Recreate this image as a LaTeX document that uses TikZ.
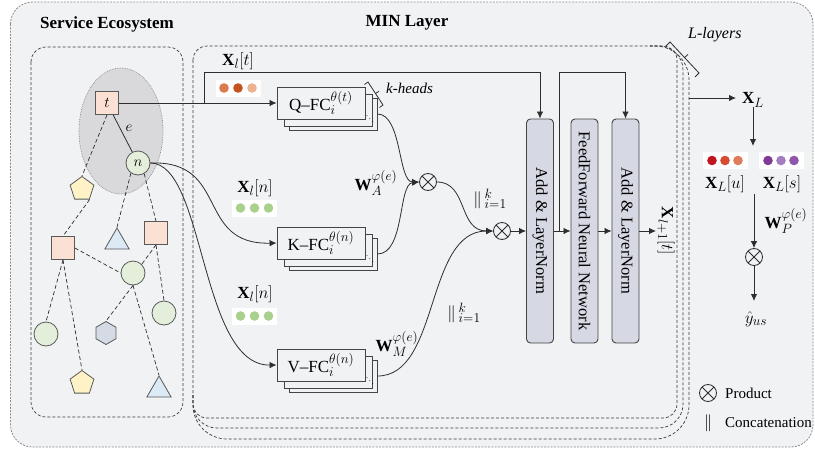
\RequirePackage{fix-cm}
\documentclass[tikz,border=0pt]{standalone}
\usepackage{fontspec}
\setmainfont{Liberation Serif}
\usetikzlibrary{shapes.geometric,arrows.meta,calc}
\DeclareMathSizes{17}{17}{13.5}{10.5}

\definecolor{bg}{HTML}{F1F2F4}
\definecolor{outerB}{HTML}{8C8C8C}
\definecolor{dashB}{HTML}{3C3C3C}
\definecolor{ellC}{HTML}{D9D9DC}
\definecolor{ellB}{HTML}{8A8A8A}
\definecolor{salmon}{HTML}{FBE1D4}
\definecolor{nodeB}{HTML}{595959}
\definecolor{leaf}{HTML}{E3EFDB}
\definecolor{sand}{HTML}{FFF2C6}
\definecolor{sky}{HTML}{DCEAF6}
\definecolor{slate}{HTML}{D5DBE4}
\definecolor{lav}{HTML}{D6D8E3}
\definecolor{boxB}{HTML}{444444}
\definecolor{lineC}{HTML}{2E2E2E}
\definecolor{orA}{HTML}{DA7B4B}
\definecolor{orB}{HTML}{C4541F}
\definecolor{orC}{HTML}{EBB294}
\definecolor{grA}{HTML}{A9D18E}
\definecolor{rdA}{HTML}{C0161F}
\definecolor{rdB}{HTML}{D64B33}
\definecolor{rdC}{HTML}{E07C5C}
\definecolor{puA}{HTML}{7E3C97}
\definecolor{puB}{HTML}{A47DC1}
\definecolor{puC}{HTML}{8F56AC}

% stacked k-head projection boxes: name, centre, label
\newcommand\fcstack[3]{%
  \node[fcbox] (#1b2) at ($(#2)+(12,11)$) {};
  \node[fcbox] (#1b1) at ($(#2)+(7,7)$) {};
  \node[fcbox] (#1) at (#2) {#3};
  \node[font=\fontsize{8}{8}\selectfont, inner sep=0] at ($(#1.south east)+(4.5,-3.5)$) {$\ddots$};
}
% a row of three coloured dots on a white strip: name, centre, colours, spacing
\newcommand\dotrow[6]{%
  \node[dotbox] (#1) at (#2) {};
  \fill[#3] ($(#1)+(-#6,0)$) circle (4.8pt);
  \fill[#4] (#1) circle (4.8pt);
  \fill[#5] ($(#1)+(#6,0)$) circle (4.8pt);
}
% concatenation operator with its range
\newcommand\catop{${\|}\,{}^{k}_{i=1}$}

\tikzset{
  conn/.style={draw=lineC, line width=0.8pt},
  arr/.style={conn, -{Latex[length=7pt,width=6.5pt]}},
  gedge/.style={draw=lineC, line width=0.7pt, dash pattern=on 4pt off 2.5pt},
  sq/.style={rectangle, draw=nodeB, line width=0.8pt, fill=salmon, minimum size=23pt, inner sep=0},
  cir/.style={circle, draw=nodeB, line width=0.8pt, fill=leaf, minimum size=24pt, inner sep=0},
  pent/.style={regular polygon, regular polygon sides=5, draw=nodeB, line width=0.8pt, fill=sand, minimum size=25pt, inner sep=0},
  tri/.style={regular polygon, regular polygon sides=3, draw=nodeB, line width=0.8pt, fill=sky, minimum size=28pt, inner sep=0},
  hexa/.style={regular polygon, regular polygon sides=6, shape border rotate=30, draw=nodeB, line width=0.8pt, fill=slate, minimum size=23pt, inner sep=0},
  fcbox/.style={rectangle, draw=boxB, fill=bg, line width=0.9pt, minimum width=88pt, minimum height=32pt, inner sep=0, font=\fontsize{17}{18}\selectfont},
  lnbox/.style={rectangle, rounded corners=4pt, draw=boxB, fill=lav, line width=0.9pt, minimum width=27pt, minimum height=224pt, inner sep=0},
  lntext/.style={rotate=-90, font=\fontsize{16.5}{18}\selectfont, inner sep=0},
  prod/.style={circle, draw=lineC, line width=0.8pt, fill=bg, minimum size=17pt, inner sep=0,
    path picture={\draw[lineC, line width=0.8pt]
      (path picture bounding box.north west) -- (path picture bounding box.south east)
      (path picture bounding box.north east) -- (path picture bounding box.south west);}},
  dotbox/.style={rectangle, fill=white, minimum width=45pt, minimum height=17pt, inner sep=0},
  lbl/.style={font=\fontsize{17}{20}\selectfont, inner sep=0},
  title/.style={font=\fontsize{17}{20}\selectfont\bfseries, inner sep=0},
  lay/.style={draw=dashB, line width=0.7pt, dash pattern=on 3pt off 2pt},
  brk/.style={draw=lineC, line width=0.8pt},
}

\begin{document}
\begin{tikzpicture}[x=1pt, y=-1pt]
\useasboundingbox (0,0) rectangle (815,450);

% outer frame
\draw[fill=bg, draw=outerB, line width=0.8pt, dash pattern=on 2pt off 1.3pt, rounded corners=22pt]
  (10.5,2) rectangle (813,447);

% titles
\node[title] (tse) at (107,24) {Service Ecosystem};
\node[title] (tmin) at (407,23) {MIN Layer};

% service ecosystem frame
\draw[lay, rounded corners=15pt] (31,47) rectangle (183,417);

% stacked MIN layer frames (the rear ones show only below and to the right)
\draw[lay, rounded corners=34pt] (193,395) -- (193,439) -- (689,439) -- (689,46) -- (650,46);
\draw[lay, rounded corners=24pt] (193,395) -- (193,428) -- (683,428) -- (683,46) -- (650,46);
\draw[lay, rounded corners=14pt] (193,46) rectangle (677,418);

% L-layers bracket
\draw[brk] (666,46) -- (670,42) -- (699,73) -- (695,77);
\draw[brk] (684.5,57.5) -- (688,54.5);
\node[lbl, font=\fontsize{16}{18}\selectfont\itshape, anchor=west] (tL) at (688,35) {L-layers};

% ---------------- service ecosystem graph ----------------
\node[ellipse, draw=ellB, densely dotted, line width=0.7pt, fill=ellC, minimum width=84pt, minimum height=126pt, inner sep=0] (grp) at (121,131) {};

\node[sq]  (t)   at (107,103) {\fontsize{15}{15}\selectfont$t$};
\node[cir] (n)   at (138,163) {\fontsize{15}{15}\selectfont$n$};
\node[pent] (p1) at (82,189) {};
\node[sq]  (s2)  at (63,248) {};
\node[tri] (tr1) at (117,242) {};
\node[sq]  (s3)  at (156,233) {};
\node[cir] (c2)  at (133,273) {};
\node[cir] (c3)  at (46,334) {};
\node[hexa] (hx) at (106,333) {};
\node[cir] (c4)  at (164,313) {};
\node[pent] (p2) at (82,383) {};
\node[tri] (tr2) at (159,390) {};

\draw[conn] (t) -- (n);
\node[font=\fontsize{15}{15}\selectfont, inner sep=0] (elab) at (129,128) {$e$};
\draw[gedge] (t.south) -- (p1.corner 1);
\draw[gedge] (n.235) -- (tr1.corner 1);
\draw[gedge] (n.-60) -- (s3.north);
\draw[gedge] (p1.corner 4) -- (s2.north);
\draw[gedge] (s2.east) -- (c2.west);
\draw[gedge] (s3.south) -- (c2.north east);
\draw[gedge] (s3.south) -- (c4.north);
\draw[gedge] (s2.south) -- (c3.north);
\draw[gedge] (s2.south) -- (p2.corner 1);
\draw[gedge] (c2.south) -- (hx.corner 1);
\draw[gedge] (c2.south) -- (tr2.corner 1);

% ---------------- MIN layer ----------------
\fcstack{qfc}{321,103}{Q–FC$_i^{\theta(t)}$}
\fcstack{kfc}{321,243}{K–FC$_i^{\theta(n)}$}
\fcstack{vfc}{321,365}{V–FC$_i^{\theta(n)}$}

% k-heads bracket
\draw[brk] (364.5,84.5) -- (368,82) -- (383,105) -- (379.5,107.5);
\draw[brk] (375.5,93.5) -- (379,91.3);
\node[font=\fontsize{15}{18}\selectfont\itshape, anchor=west, inner sep=0] (tk) at (386,88) {k-heads};

% input feature strips
\node[lbl] (xt) at (238,61) {$\mathbf{X}_l[t]$};
\dotrow{dt}{238,88}{orA}{orB}{orC}{14}
\node[lbl] (xn1) at (255,188) {$\mathbf{X}_l[n]$};
\dotrow{dn1}{254.5,208}{grA}{grA}{grA}{14}
\node[lbl] (xn2) at (255,294) {$\mathbf{X}_l[n]$};
\dotrow{dn2}{254.5,316}{grA}{grA}{grA}{14}

% products
\node[prod] (o1) at (428,182) {};
\node[prod] (o2) at (502,231) {};

% layer blocks
\node[lnbox] (ln1) at (540,231) {};
\node[lntext] at (ln1) {Add \& LayerNorm};
\node[lnbox] (ffn) at (584.5,231) {};
\node[lntext] at (ffn) {FeedForward Neural Network};
\node[lnbox] (ln2) at (625.5,231) {};
\node[lntext] at (ln2) {Add \& LayerNorm};

% query path and residual
\draw[arr] (t) -- (qfc);
\coordinate (br) at (204,103);
\coordinate (brtop) at (204,72);
\draw[conn, -{Latex[length=7pt,width=6.5pt]}] (br) -- (brtop) -| (ln1.north);

% key / value paths
\draw[arr] (n.east) .. controls (230,160) and (195,245) .. (kfc.west);
\draw[arr] (n.east) .. controls (205,163) and (200,366) .. (vfc.west);

% attention
\draw[arr] (qfcb2.east) .. controls (402,114) and (398,182) .. (o1.west);
\draw[arr] (kfcb2.east) .. controls (405,254) and (398,184) .. (o1.west);
\draw[arr] (o1.east) .. controls (468,182) and (458,231) .. (o2.west);
\draw[arr] (vfcb2.east) .. controls (440,376) and (425,231) .. (o2.west);

\node[lbl] (wa) at (376,183) {$\mathbf{W}_A^{\varphi(e)}$};
\node[lbl] (wm) at (397,344) {$\mathbf{W}_M^{\varphi(e)}$};
\node[lbl] (cc1) at (490,199) {\catop};
\node[lbl] (cc2) at (464,313) {\catop};

\draw[arr] (o2) -- (ln1);
\draw[arr] (ln1) -- (ffn);
\draw[arr] (ffn) -- (ln2);
\coordinate (r2) at (559,231);
\coordinate (r2top) at (559,72);
\draw[conn, -{Latex[length=7pt,width=6.5pt]}] (r2) -- (r2top) -| (ln2.north);
\coordinate (out) at (656,231);
\draw[arr] (ln2) -- (out);
\node[lbl, rotate=-90] (xnext) at (666,231) {$\mathbf{X}_{l+1}[t]$};

% ---------------- prediction ----------------
\coordinate (lo) at (689,98);
\node[lbl] (xL) at (753,100) {$\mathbf{X}_L$};
\coordinate (xLin) at (736,98);
\draw[arr] (lo) -- (xLin);
\coordinate (xLd) at (753,146);
\draw[arr] (xL) -- (xLd);

\dotrow{du}{725,160.5}{rdA}{rdB}{rdC}{13}
\dotrow{ds}{781,160.5}{puA}{puB}{puC}{13}
\node[lbl] (xu) at (725,184) {$\mathbf{X}_L[u]$};
\node[lbl] (xs) at (782,184) {$\mathbf{X}_L[s]$};

\node[prod] (o3) at (754,257) {};
\coordinate (pin) at (754,194);
\draw[arr] (pin) -- (o3);
\node[lbl] (wp) at (786,221) {$\mathbf{W}_P^{\varphi(e)}$};
\coordinate (yin) at (754,301);
\draw[arr] (o3) -- (yin);
\node[lbl] (yh) at (756,319) {$\hat{y}_{us}$};

% legend
\node[prod] (lgp) at (708,393) {};
\node[anchor=west, font=\fontsize{15}{18}\selectfont, inner sep=0] (lgpt) at (725,393) {Product};
\node[lbl] (lgc) at (708,423) {$\|$};
\node[anchor=west, font=\fontsize{15}{18}\selectfont, inner sep=0] (lgct) at (725,423) {Concatenation};

\end{tikzpicture}
\end{document}
